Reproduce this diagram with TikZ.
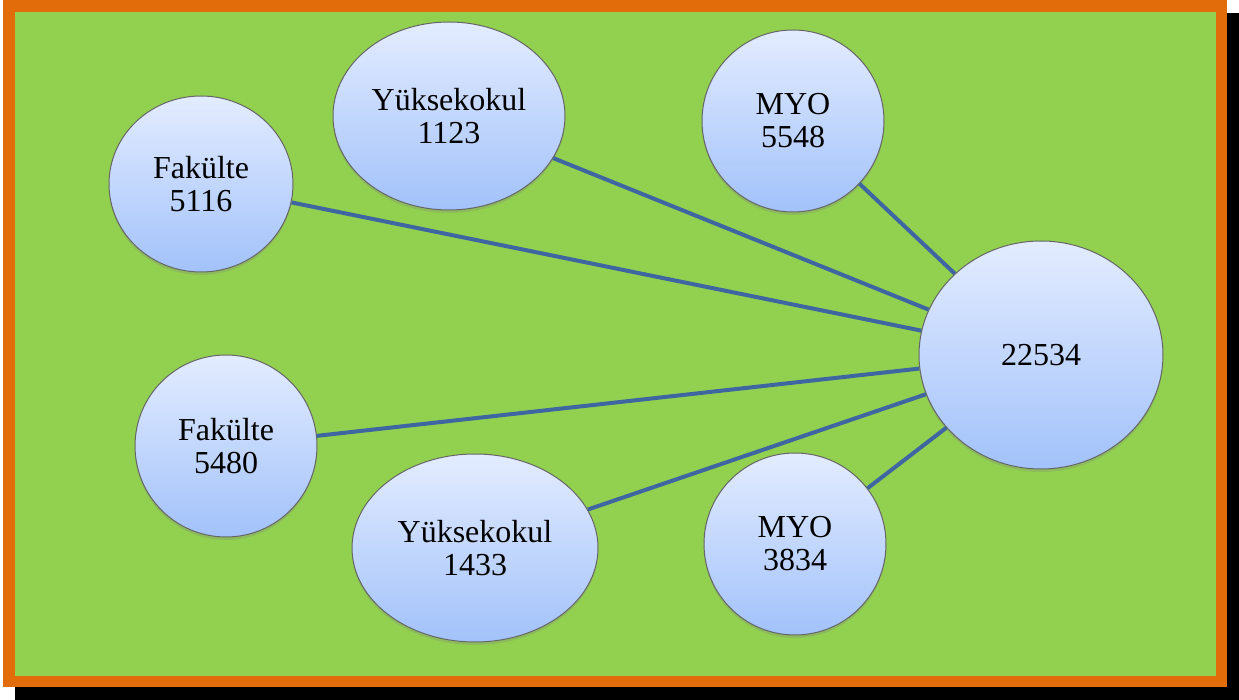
\documentclass[tikz,border=0pt]{standalone}
\usepackage{fontspec}
\setmainfont{Liberation Serif}
\usetikzlibrary{shapes.geometric,shadows}

\definecolor{frameorange}{HTML}{E36C0A}
\definecolor{fieldgreen}{HTML}{92D050}
\definecolor{linkblue}{HTML}{4066A2}
\definecolor{bubbletop}{HTML}{E3ECFF}
\definecolor{bubblebot}{HTML}{A2C2FA}

\begin{document}
\begin{tikzpicture}[
  x=0.5pt, y=-0.5pt,
  bubble/.style={ellipse, draw=black!60, line width=0.5pt,
    top color=bubbletop, bottom color=bubblebot,
    align=center, inner sep=0pt,
    font=\fontsize{16}{16.5}\selectfont,
    drop shadow={shadow xshift=0pt, shadow yshift=-1.5pt, opacity=0.25}},
  link/.style={draw=linkblue, line width=2pt}
]
\useasboundingbox (0,0) rectangle (1239,700);

% --- frame ---
\fill[black] (15,13) rectangle (1239,700);
\fill[frameorange] (3,0) rectangle (1227,687);
\fill[fieldgreen] (15,12) rectangle (1216,676);

% --- bubbles ---
\node[bubble, minimum width=122pt, minimum height=114pt] (total) at (1041,355) {22534};
\node[bubble, minimum width=92pt, minimum height=88pt] (fak1) at (201,184) {Fakülte\\5116};
\node[bubble, minimum width=116pt, minimum height=94pt] (yo1) at (449,116) {Yüksekokul\\1123};
\node[bubble, minimum width=91pt, minimum height=91pt] (myo1) at (793,121) {MYO\\5548};
\node[bubble, minimum width=91pt, minimum height=91pt] (fak2) at (226,446) {Fakülte\\5480};
\node[bubble, minimum width=123pt, minimum height=94pt] (yo2) at (475,548) {Yüksekokul\\1433};
\node[bubble, minimum width=91pt, minimum height=91pt] (myo2) at (795,544) {MYO\\3834};

% --- links to the total ---
\foreach \src in {fak1, yo1, myo1, fak2, yo2, myo2}
  \draw[link] (\src) -- (total);

\end{tikzpicture}
\end{document}
